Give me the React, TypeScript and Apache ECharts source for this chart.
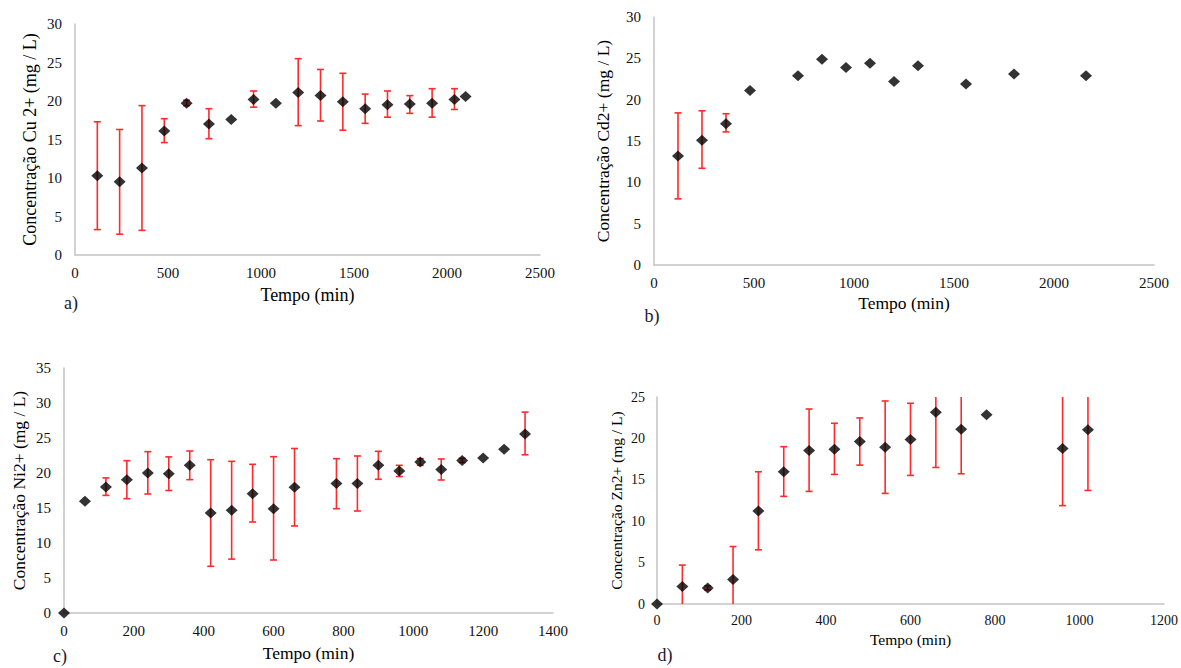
import React, { useEffect, useRef } from "react";
import * as echarts from "echarts";

// a) Cu
const cuTime = [120, 240, 360, 480, 600, 720, 840, 960, 1080, 1200, 1320, 1440, 1560, 1680, 1800, 1920, 2040, 2100];
const cuMean = [10.3, 9.5, 11.3, 16.1, 19.7, 17.0, 17.6, 20.2, 19.7, 21.1, 20.7, 19.9, 19.0, 19.5, 19.6, 19.7, 20.2, 20.6];
const cuLow = [3.3, 2.7, 3.2, 14.6, 19.4, 15.1, null, 19.2, null, 16.8, 17.4, 16.2, 17.1, 17.9, 18.4, 17.9, 18.9, null];
const cuHigh = [17.3, 16.3, 19.4, 17.7, 20.1, 19.0, null, 21.3, null, 25.5, 24.1, 23.6, 20.9, 21.3, 20.7, 21.6, 21.6, null];

// b) Cd
const cdTime = [120, 240, 360, 480, 720, 840, 960, 1080, 1200, 1320, 1560, 1800, 2160];
const cdMean = [13.2, 15.1, 17.1, 21.1, 22.9, 24.9, 23.9, 24.4, 22.2, 24.1, 21.9, 23.1, 22.9];
const cdLow = [8.0, 11.7, 16.1, null, null, null, null, null, null, null, null, null, null];
const cdHigh = [18.4, 18.65, 18.3, null, null, null, null, null, null, null, null, null, null];

// c) Ni
const niTime = [0, 60, 120, 180, 240, 300, 360, 420, 480, 540, 600, 660, 780, 840, 900, 960, 1020, 1080, 1140, 1200, 1260, 1320];
const niMean = [0, 15.95, 18.0, 19.05, 20.0, 19.9, 21.1, 14.3, 14.67, 17.05, 14.9, 17.95, 18.5, 18.5, 21.1, 20.3, 21.57, 20.5, 21.8, 22.14, 23.4, 25.57];
const niLow = [null, null, 16.8, 16.33, 17.0, 17.5, 19.05, 6.67, 7.7, 13.0, 7.57, 12.43, 14.9, 14.57, 19.1, 19.5, 21.1, 19.0, 21.5, null, null, 22.6];
const niHigh = [null, null, 19.3, 21.76, 23.05, 22.3, 23.14, 21.9, 21.67, 21.24, 22.33, 23.5, 22.05, 22.43, 23.1, 21.1, 22.05, 22.0, 22.1, null, null, 28.7];

// d) Zn
const znTime = [0, 60, 120, 180, 240, 300, 360, 420, 480, 540, 600, 660, 720, 780, 960, 1020];
const znMean = [0, 2.1, 1.93, 2.97, 11.24, 15.97, 18.54, 18.7, 19.62, 18.94, 19.86, 23.15, 21.1, 22.87, 18.78, 21.03];
const znLow = [null, -0.5, 1.7, -1.0, 6.54, 13.0, 13.6, 15.65, 16.77, 13.36, 15.53, 16.49, 15.73, null, 11.88, 13.72];
const znHigh = [null, 4.7, 2.2, 6.94, 15.97, 19.0, 23.55, 21.83, 22.47, 24.52, 24.24, 29.8, 26.5, null, 25.7, 28.3];

const SERIF = "Liberation Serif";
const AXIS_COLOR = "#c3c3c3";
const ERR_COLOR = "#ff2a2a";

type Panel = {
  grid: { left: number; top: number; width: number; height: number };
  xMax: number;
  xInt: number;
  yMax: number;
  yName: string;
  time: number[];
  mean: number[];
  low: (number | null)[];
  high: (number | null)[];
  tickSize: number;
  nameSize: number;
  xGap: number;
  yGap: number;
  yLabelMargin: number;
  xLabelMargin: number;
};

const panels: Panel[] = [
  {
    grid: { left: 75, top: 24, width: 465, height: 231 },
    xMax: 2500, xInt: 500, yMax: 30,
    yName: "Concentração Cu 2+ (mg / L)",
    time: cuTime, mean: cuMean, low: cuLow, high: cuHigh,
    tickSize: 15, nameSize: 18, xGap: 31, yGap: 36, yLabelMargin: 13, xLabelMargin: 10,
  },
  {
    grid: { left: 654, top: 17, width: 500, height: 248 },
    xMax: 2500, xInt: 500, yMax: 30,
    yName: "Concentração Cd2+ (mg / L)",
    time: cdTime, mean: cdMean, low: cdLow, high: cdHigh,
    tickSize: 15, nameSize: 17.5, xGap: 29, yGap: 42, yLabelMargin: 13, xLabelMargin: 10,
  },
  {
    grid: { left: 64, top: 368, width: 489, height: 245 },
    xMax: 1400, xInt: 200, yMax: 35,
    yName: "Concentração Ni2+ (mg / L)",
    time: niTime, mean: niMean, low: niLow, high: niHigh,
    tickSize: 15, nameSize: 17.5, xGap: 31, yGap: 36, yLabelMargin: 13, xLabelMargin: 10,
  },
  {
    grid: { left: 657, top: 397, width: 507, height: 207 },
    xMax: 1200, xInt: 200, yMax: 25,
    yName: "Concentração Zn2+ (mg / L)",
    time: znTime, mean: znMean, low: znLow, high: znHigh,
    tickSize: 14, nameSize: 15.5, xGap: 27, yGap: 33, yLabelMargin: 12, xLabelMargin: 9,
  },
];

const letters = [
  { t: "a)", x: 71, y: 303 },
  { t: "b)", x: 652, y: 316 },
  { t: "c)", x: 60, y: 656 },
  { t: "d)", x: 665, y: 655 },
];

export default function App() {
  const ref = useRef<HTMLDivElement>(null);
  useEffect(() => {
    if (!ref.current) return;
    const chart = echarts.init(ref.current, undefined, { renderer: "svg" });
    const grids: any[] = [];
    const xAxes: any[] = [];
    const yAxes: any[] = [];
    const series: any[] = [];
    const fmt = (v: number) => String(v);
    panels.forEach((p, i) => {
      grids.push({ ...p.grid, containLabel: false });
      xAxes.push({
        type: "value", gridIndex: i, min: 0, max: p.xMax, interval: p.xInt,
        axisLine: { show: true, lineStyle: { color: AXIS_COLOR, width: 1.5 } },
        axisTick: { show: false }, splitLine: { show: false },
        axisLabel: { fontFamily: SERIF, fontSize: p.tickSize, color: "#111", margin: p.xLabelMargin, formatter: fmt },
        name: "Tempo (min)", nameLocation: "middle", nameGap: p.xGap,
        nameTextStyle: { fontFamily: SERIF, fontSize: p.nameSize, color: "#000", fontWeight: "normal" },
      });
      yAxes.push({
        type: "value", gridIndex: i, min: 0, max: p.yMax, interval: 5,
        axisLine: { show: true, lineStyle: { color: AXIS_COLOR, width: 1.5 } },
        axisTick: { show: false }, splitLine: { show: false },
        axisLabel: { fontFamily: SERIF, fontSize: p.tickSize, color: "#111", margin: p.yLabelMargin, formatter: fmt },
        name: p.yName, nameLocation: "middle", nameGap: p.yGap,
        nameTextStyle: { fontFamily: SERIF, fontSize: p.nameSize, color: "#000", fontWeight: "normal" },
      });
      const errData: number[][] = [];
      p.time.forEach((t, k) => {
        const lo = p.low[k];
        const hi = p.high[k];
        if (lo != null && hi != null) errData.push([t, lo, hi]);
      });
      series.push({
        type: "custom", xAxisIndex: i, yAxisIndex: i, clip: true, z: 2,
        data: errData,
        encode: { x: 0, y: [1, 2] },
        renderItem: (params: any, api: any) => {
          const x = api.value(0);
          const pLo = api.coord([x, api.value(1)]);
          const pHi = api.coord([x, api.value(2)]);
          const cw = 3.5;
          const style = { stroke: ERR_COLOR, lineWidth: 1.6 };
          return {
            type: "group",
            children: [
              { type: "line", shape: { x1: pLo[0], y1: pLo[1], x2: pHi[0], y2: pHi[1] }, style },
              { type: "line", shape: { x1: pLo[0] - cw, y1: pLo[1], x2: pLo[0] + cw, y2: pLo[1] }, style },
              { type: "line", shape: { x1: pHi[0] - cw, y1: pHi[1], x2: pHi[0] + cw, y2: pHi[1] }, style },
            ],
          };
        },
      });
      series.push({
        type: "scatter", xAxisIndex: i, yAxisIndex: i, clip: false, z: 3,
        symbol: "diamond", symbolSize: [12, 11],
        itemStyle: { color: "#000" },
        data: p.time.map((t, k) => [t, p.mean[k]]),
      });
    });
    chart.setOption({
      animation: false,
      backgroundColor: "#fff",
      grid: grids,
      xAxis: xAxes,
      yAxis: yAxes,
      series,
      graphic: letters.map((l) => ({
        type: "text", x: l.x, y: l.y,
        style: { text: l.t, fontFamily: SERIF, fontSize: 18, fill: "#1a1a2e", align: "center", verticalAlign: "middle" },
      })),
    });
    return () => chart.dispose();
  }, []);
  return (
    <div
      ref={ref}
      style={{ position: "absolute", left: 0, top: 0, width: 1181, height: 668, background: "#fff" }}
    />
  );
}
